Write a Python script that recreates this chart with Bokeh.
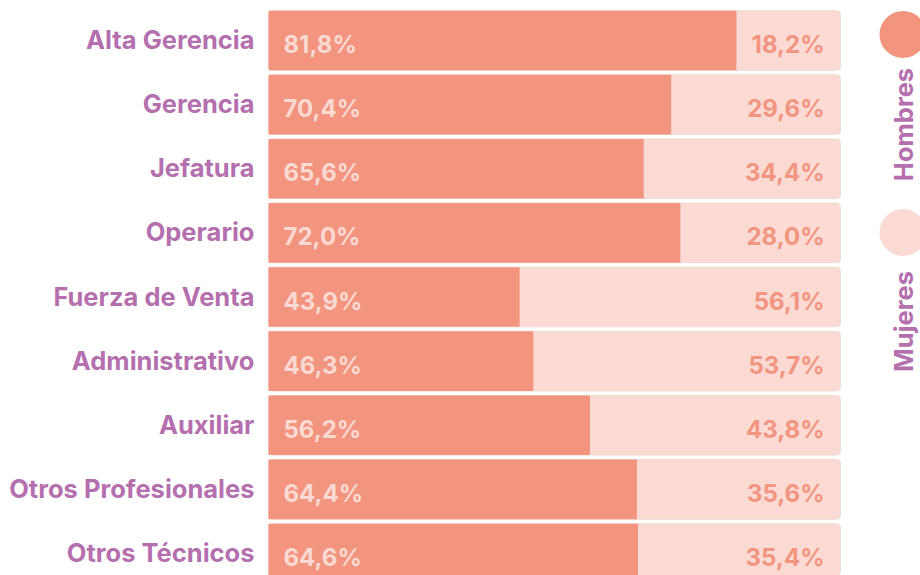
import math
from bokeh.plotting import figure
from bokeh.models import ColumnDataSource, Range1d
from bokeh.core.properties import value
from bokeh.embed import file_html
from bokeh.resources import INLINE

# ---- data ----
categories = ["Alta Gerencia", "Gerencia", "Jefatura", "Operario", "Fuerza de Venta",
              "Administrativo", "Auxiliar", "Otros Profesionales", "Otros Técnicos"]
hombres = [81.8, 70.4, 65.6, 72.0, 43.9, 46.3, 56.2, 64.4, 64.6]
mujeres = [18.2, 29.6, 34.4, 28.0, 56.1, 53.7, 43.8, 35.6, 35.4]
legend_labels = ["Hombres", "Mujeres"]

# ---- style ----
DARK = "#F2947E"
LIGHT = "#FADAD3"
PURPLE = "#B56FAE"
FONT = "Inter"

W, H = 920, 575
BAR_X0, BAR_X1 = 268, 840       # canvas px for 0% and 100%
ROW0, PITCH = 40, 64.125        # canvas px of first row centre and row pitch

px_per = (BAR_X1 - BAR_X0) / 100.0
x_start = -BAR_X0 / px_per
x_end = (W - BAR_X0) / px_per
y_top = -ROW0 / PITCH
y_bot = y_top + H / PITCH

def px_to_x(px):
    return x_start + px / px_per

def px_to_y(py):
    return y_top + py / PITCH

idx = list(range(len(categories)))
fmt = lambda v: f"{v:.1f}%".replace(".", ",")

src = ColumnDataSource(dict(
    y=idx, cat=categories, h=hombres, m=mujeres,
    full=[h + m for h, m in zip(hombres, mujeres)],
    zero=[0] * len(idx),
    hl=[fmt(v) for v in hombres], ml=[fmt(v) for v in mujeres],
))

p = figure(width=W, height=H, output_backend="svg", toolbar_location=None,
           x_range=Range1d(x_start, x_end), y_range=Range1d(y_bot, y_top),
           min_border=0, outline_line_color=None, background_fill_color="white",
           border_fill_color="white")
p.axis.visible = False
p.grid.visible = False

p.hbar(y="y", left="zero", right="full", height=0.93, source=src,
       fill_color=LIGHT, line_color="#EEDCD8", line_width=1, border_radius=4)
p.hbar(y="y", left="zero", right="h", height=0.93, source=src,
       fill_color=DARK, line_color=None)

p.text(x="zero", y="y", text="cat", source=src, x_offset=-14, y_offset=-1,
       text_align="right", text_baseline="middle", text_color=PURPLE,
       text_font=value(FONT), text_font_style="bold", text_font_size="25.5px")
p.text(x="zero", y="y", text="hl", source=src, x_offset=15, y_offset=4,
       text_align="left", text_baseline="middle", text_color=LIGHT,
       text_font=value(FONT), text_font_style="bold", text_font_size="24px")
p.text(x="full", y="y", text="ml", source=src, x_offset=-16, y_offset=4,
       text_align="right", text_baseline="middle", text_color=DARK,
       text_font=value(FONT), text_font_style="bold", text_font_size="24px")

# ---- legend ----
leg_x = px_to_x(902.5)
circ_y = [px_to_y(34), px_to_y(232)]
text_y = [px_to_y(124), px_to_y(321)]
p.scatter(x=[leg_x] * 2, y=circ_y, size=47, marker="circle",
          fill_color=[DARK, LIGHT], line_color=None)
p.text(x=[leg_x] * 2, y=text_y, text=legend_labels, angle=math.pi / 2,
       text_align="center", text_baseline="middle", text_color=PURPLE,
       text_font=value(FONT), text_font_style="bold", text_font_size="25.5px")

open("out.html", "w").write(file_html(p, INLINE))
